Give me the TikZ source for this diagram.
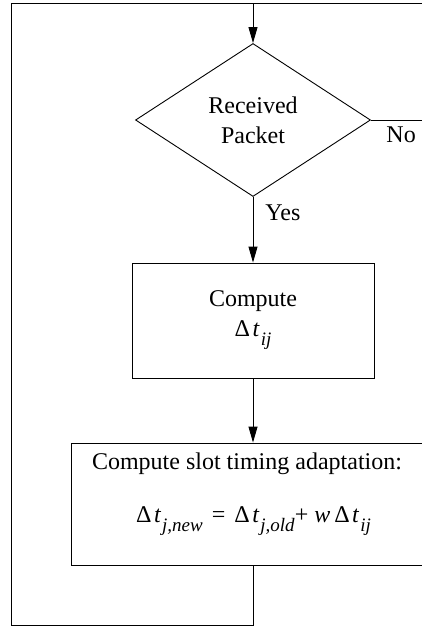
\documentclass[tikz,border=0pt]{standalone}
\usepackage{fontspec}
\setmainfont{Liberation Serif}
\usetikzlibrary{shapes.geometric,arrows.meta}
\newcommand{\sbx}[1]{\raisebox{-9pt}{\fontsize{19}{19}\selectfont\textit{#1}}}
\newcommand{\dlt}{Δ\kern2.5pt\textit{t}\kern1pt}
\begin{document}
\begin{tikzpicture}[x=1pt,y=-1pt,line width=0.9pt,
  font=\fontsize{24}{30}\selectfont,
  arr/.style={-{Triangle[length=16pt,width=9pt]}},
  boxnode/.style={draw,rectangle,inner sep=0pt,align=center},
  decnode/.style={draw,diamond,aspect=1.5,inner sep=0pt,align=center,
    minimum width=235pt,minimum height=153pt}]
\useasboundingbox (0,0) rectangle (422,626);
\clip (0,0) rectangle (422,626);
\node[decnode] (dec) at (253,120) {Received\\Packet};
\node[boxnode,minimum width=242pt,minimum height=115pt] (cmp) at (253,320.5) {Compute\\\dlt\sbx{ij}};
\node[boxnode,minimum width=369pt,minimum height=122pt] (upd) at (255.5,504) {};
\node[anchor=base,inner sep=0pt] (updt) at (247,469) {Compute slot timing adaptation:};
\node[anchor=base,inner sep=0pt] (updf) at (253.5,522) {\dlt\sbx{j,new}\hspace{9pt}=\hspace{9pt}\dlt\sbx{j,old}+\hspace{6pt}\textit{w}\,\dlt\sbx{ij}};
\node[anchor=base west,inner sep=0pt] (nolab) at (386,142) {No};
\node[anchor=base west,inner sep=0pt] (yeslab) at (265,220) {Yes};
\coordinate (c1) at (253,625);
\coordinate (c2) at (11,625);
\coordinate (c3) at (11,3);
\coordinate (c4) at (253,3);
\coordinate (c5) at (440,3);
\coordinate (noend) at (440,120);
\draw[arr] (upd.south -| dec.south) -- (c1) -- (c2) -- (c3) -- (c4) -- (dec.north);
\draw (c4) -- (c5);
\draw (dec.east) -- (noend);
\draw[arr] (dec.south) -- (cmp.north);
\draw[arr] (cmp.south) -- (upd.north -| cmp.north);
\end{tikzpicture}
\end{document}
